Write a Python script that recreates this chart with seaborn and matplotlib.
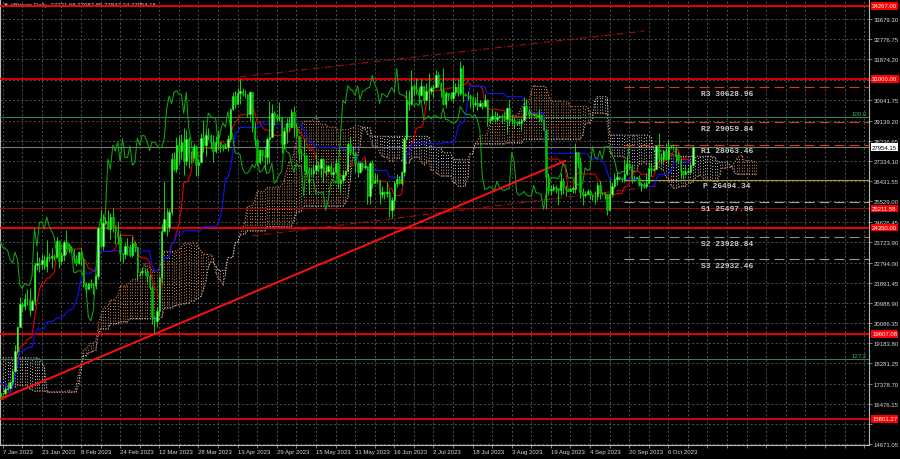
"""
Bitcoin daily chart in MetaTrader style: candles, Ichimoku cloud,
monthly pivot levels and hand drawn levels / trend lines
"""
import matplotlib
matplotlib.use('Agg')
import matplotlib.pyplot as plt
import seaborn as sns
import pandas as pd
import numpy as np

# ---- daily candles (open = previous close), 22 Oct 2022 .. 16 Oct 2023 ----
first_open = 19170.0

close_2022_10 = [19200, 19570, 19330, 20080, 20770, 20290, 20600, 20820, 20630, 20490]
high_2022_10 = [19250, 19690, 19600, 20380, 21000, 20850, 20720, 21000, 20930, 20800]
low_2022_10 = [19110, 19070, 19160, 19260, 20060, 20220, 20020, 20580, 20540, 20250]

close_2022_11 = [20480, 20160, 20210, 21150, 21300, 20900, 20590, 18540, 15880, 17590,
                 17070, 16810, 16330, 16620, 16900, 16660, 16690, 16700, 16700, 16280,
                 15780, 16190, 16610, 16600, 16520, 16460, 16440, 16220, 16440, 17170]
high_2022_11 = [20620, 20750, 20380, 21260, 21470, 21350, 21050, 20670, 18590, 18070,
                17620, 17070, 16850, 17130, 17080, 16960, 16730, 16900, 16800, 16740,
                16290, 16270, 16670, 16780, 16610, 16670, 16590, 16480, 16530, 17200]
low_2022_11 = [20350, 20060, 20060, 20180, 21080, 20890, 20400, 17170, 15680, 15820,
               16400, 16690, 16130, 15820, 16560, 16420, 16440, 16560, 16590, 16250,
               15600, 15650, 16170, 16470, 16350, 16410, 16400, 16010, 16130, 16440]

close_2022_12 = [16980, 17090, 16890, 17110, 16970, 17090, 16840, 17220, 17130, 17130,
                 17090, 17210, 17780, 17810, 17360, 16630, 16780, 16740, 16440, 16900,
                 16820, 16830, 16780, 16840, 16830, 16920, 16710, 16550, 16640, 16600, 16540]
high_2022_12 = [17300, 17100, 17150, 17200, 17400, 17100, 17080, 17300, 17350, 17220,
                17270, 17240, 18000, 18390, 17850, 17530, 16800, 16860, 16800, 17020,
                16900, 16860, 16920, 16870, 16860, 16940, 16960, 16780, 16650, 16640, 16630]
low_2022_12 = [16900, 16790, 16880, 16870, 16930, 16910, 16700, 16740, 17100, 17090,
               17070, 16870, 17090, 17660, 17280, 16570, 16590, 16730, 16400, 16400,
               16770, 16600, 16770, 16780, 16730, 16790, 16600, 16500, 16510, 16350, 16490]

close_2023_01 = [16620, 16670, 16670, 16850, 16830, 16950, 16940, 17120, 17180, 17440,
                 17940, 18850, 19930, 20950, 20870, 21170, 21160, 20690, 21080, 22680,
                 22780, 22710, 22920, 22620, 23050, 23010, 23080, 23030, 23770, 22840, 23140]
high_2023_01 = [16630, 16760, 16770, 16980, 16880, 16990, 16980, 17170, 17390, 17490,
                17990, 19100, 19960, 21260, 21030, 21450, 21620, 21650, 21180, 22750,
                23300, 23050, 23160, 23120, 23780, 23240, 23450, 23160, 23950, 23800, 23250]
low_2023_01 = [16500, 16570, 16600, 16670, 16750, 16710, 16910, 16900, 17100, 17140,
               17320, 17910, 18700, 19890, 20600, 20660, 20880, 20400, 20670, 20880,
               22460, 22350, 22500, 22500, 22350, 22870, 22540, 22890, 22980, 22560, 22740]

close_2023_02 = [23730, 23490, 23430, 23330, 22940, 22760, 23260, 22960, 21800, 21630,
                 21860, 21790, 21780, 22200, 24330, 23520, 24570, 24630, 24280, 24830,
                 24440, 24190, 23950, 23200, 23160, 23550, 23490, 23150]
high_2023_02 = [23800, 24230, 23600, 23550, 23420, 23140, 23320, 23450, 22990, 21930,
                21900, 22060, 21880, 22300, 24370, 25200, 24950, 24810, 25120, 25000,
                25250, 24470, 24600, 24120, 23220, 23680, 23880, 23600]
low_2023_02 = [22840, 23400, 23240, 23250, 22780, 22660, 22740, 22700, 21700, 21470,
               21600, 21650, 21380, 21600, 22050, 23500, 23360, 24460, 24280, 23850,
               24160, 23600, 23630, 22840, 22760, 22950, 23110, 23030]

close_2023_03 = [23650, 23470, 22360, 22350, 22430, 22410, 22200, 21700, 20360, 20190,
                 20630, 22160, 24200, 24750, 24380, 25050, 27420, 26970, 28040, 27770,
                 28170, 27310, 28330, 27490, 27490, 28000, 27140, 27270, 28350, 28030, 28480]
high_2023_03 = [24000, 23760, 23480, 22410, 22600, 22560, 22530, 22270, 21800, 20370,
                20790, 22180, 24520, 26400, 25220, 25200, 27700, 27720, 28400, 28500,
                28520, 28800, 28700, 28400, 27780, 28140, 28040, 27480, 28600, 29160, 28630]
low_2023_03 = [23020, 23250, 22000, 22190, 22220, 22280, 21930, 21590, 20060, 19630,
               19900, 20450, 21900, 24150, 23960, 24200, 24930, 26900, 26860, 27200,
               27400, 26700, 27170, 27030, 27250, 27460, 26660, 26680, 27260, 27720, 27560]

close_2023_04 = [28450, 28200, 27790, 28170, 28170, 28040, 27920, 27950, 28330, 29650,
                 30240, 29890, 30390, 30480, 30320, 30310, 29450, 30400, 28820, 28250,
                 27270, 27820, 27590, 27520, 28310, 28420, 29470, 29340, 29250, 29270]
high_2023_04 = [28800, 28520, 28490, 28430, 28720, 28180, 28100, 28140, 28490, 29700,
                30420, 30480, 30600, 31000, 30580, 30520, 30320, 30470, 30400, 29080,
                28370, 27880, 27820, 28000, 28390, 30000, 29870, 29560, 29440, 29970]
low_2023_04 = [28280, 27880, 27280, 27670, 27830, 27750, 27800, 27870, 27800, 28170,
               29620, 29700, 29880, 29900, 30250, 30170, 29280, 29120, 28630, 28010,
               27140, 27180, 27350, 26950, 27210, 27250, 28390, 28920, 29110, 29120]

close_2023_05 = [28090, 28680, 29030, 28850, 29540, 28900, 28450, 27690, 27660, 27620,
                 26990, 26800, 26780, 26930, 27170, 27030, 27400, 26830, 26890, 27120,
                 26760, 26850, 27230, 26330, 26480, 26720, 26870, 28080, 27750, 27700, 27220]
high_2023_05 = [29300, 28870, 29240, 29320, 29670, 29810, 29040, 28450, 27820, 28300,
                27620, 27050, 27030, 27180, 27630, 27270, 27470, 27460, 27170, 27150,
                27260, 27040, 27480, 27220, 26590, 26910, 26900, 28200, 28420, 28020, 27800]
low_2023_05 = [27690, 27880, 28150, 28690, 28850, 28420, 28400, 27340, 27390, 26880,
               26750, 25870, 26710, 26620, 26760, 26880, 26600, 26390, 26670, 26850,
               26710, 26570, 26840, 26110, 25880, 26340, 26620, 26850, 27600, 27580, 26860]

close_2023_06 = [26820, 27250, 27080, 27120, 25760, 27240, 26350, 26500, 26480, 25850,
                 25940, 25900, 25930, 25120, 25580, 26330, 26510, 26340, 26850, 28330,
                 30030, 29910, 30700, 30550, 30480, 30270, 30690, 30080, 30450, 30480]
high_2023_06 = [27310, 27300, 27300, 27430, 27130, 27340, 27390, 26800, 26770, 26530,
                26200, 26000, 26400, 26090, 25740, 26460, 26770, 26680, 26900, 28400,
                30500, 30500, 31400, 30790, 31050, 30660, 31000, 30700, 30840, 31280]
low_2023_06 = [26620, 26780, 26950, 26980, 25430, 25400, 26140, 26330, 26330, 25400,
               25690, 25650, 25740, 24830, 24800, 25200, 26170, 26300, 26260, 26660,
               28270, 29590, 29820, 30250, 30320, 29920, 30240, 29900, 30050, 29600]

close_2023_07 = [30590, 30620, 31160, 30770, 30510, 29900, 30350, 30290, 30170, 30410,
                 30620, 30390, 31480, 30330, 30300, 30250, 30140, 29860, 29920, 29800,
                 29910, 29800, 30080, 29180, 29230, 29350, 29210, 29320, 29360, 29280, 29230]
high_2023_07 = [30670, 30780, 31380, 31320, 30880, 31500, 30450, 30380, 30420, 31040,
                30800, 30980, 31810, 31630, 30390, 30440, 30330, 30240, 30190, 30410,
                30050, 29990, 30330, 30100, 29320, 29670, 29570, 29530, 29410, 29450, 29500]
low_2023_07 = [30330, 30190, 30580, 30640, 30200, 29850, 29700, 30050, 30070, 29950,
               30290, 30220, 30260, 29960, 30250, 30080, 29680, 29530, 29770, 29620,
               29740, 29640, 29740, 28880, 29050, 29100, 29090, 29130, 29260, 29040, 29130]

close_2023_08 = [29700, 29180, 29180, 29070, 29040, 29040, 29180, 29770, 29580, 29430,
                 29400, 29420, 29280, 29400, 29170, 28700, 26620, 26050, 26100, 26190,
                 26120, 26050, 26430, 26160, 26060, 26010, 26090, 26100, 27720, 27300, 25930]
high_2023_08 = [29730, 30040, 29410, 29310, 29110, 29160, 29240, 30180, 30100, 29690,
                29530, 29470, 29450, 29660, 29440, 29230, 28770, 26800, 26260, 26290,
                26250, 26130, 26780, 26550, 26280, 26100, 26160, 26200, 28140, 27740, 27500]
low_2023_08 = [28600, 28960, 28970, 28800, 28960, 28980, 28700, 29110, 29400, 29320,
               29350, 29380, 29250, 29100, 29080, 28700, 25170, 25800, 25810, 26000,
               25880, 25370, 25800, 25870, 25780, 25990, 26000, 25880, 25920, 27040, 25670]

close_2023_09 = [25800, 25870, 25970, 25810, 25780, 25750, 26240, 25900, 25900, 25840,
                 25160, 25840, 26230, 26530, 26600, 26570, 26530, 26760, 27210, 27130,
                 26570, 26580, 26580, 26260, 26300, 26220, 26350, 27030, 26910, 26970]
high_2023_09 = [26120, 25970, 26100, 26040, 25860, 26000, 26400, 26430, 25950, 25930,
                25850, 26520, 26390, 26780, 26850, 26640, 26620, 27400, 27490, 27390,
                27160, 26720, 26630, 26720, 26400, 26380, 26810, 27300, 27230, 27080]
low_2023_09 = [25360, 25720, 25820, 25650, 25580, 25400, 25600, 25650, 25820, 25620,
               24900, 25130, 25760, 26130, 26240, 26470, 26410, 26400, 26700, 26910,
               26370, 26530, 26510, 26200, 25990, 26110, 26130, 26340, 26670, 26890]

close_2023_10 = [27980, 27500, 27430, 27790, 27410, 27950, 27970, 27940, 27590, 27390,
                 26870, 26760, 26860, 26860, 27160, 27954.15]
high_2023_10 = [28050, 28580, 27670, 27820, 28120, 28280, 28030, 28100, 27990, 27730,
                27480, 26840, 27100, 26970, 27290, 27987.85]
low_2023_10 = [26960, 27330, 27180, 27220, 27360, 27180, 27870, 27840, 27300, 27300,
               26560, 26540, 26700, 26820, 26810, 27110]

# ---- levels ----
red_levels = [34267.00, 31000.00, 25211.58, 24350.00, 19607.08, 15801.27]
red_widths = [1.3, 1.2, 0.6, 1.3, 1.3, 1.2]
fibo_levels = [29280.0, 18470.0]
fibo_names = ['100.0', '127.2']
bid_price = 27954.15

pivot_names = ['R3', 'R2', 'R1', 'P', 'S1', 'S2', 'S3']
pivot_values = [30628.96, 29059.84, 28063.46, 26494.34, 25497.96, 23928.84, 22932.46]
pivot_start = '2023-09-18'

trend_dates = ['2023-01-06', '2023-08-25']
trend_prices = [16690, 27340]
chan_top_dates = ['2023-04-14', '2023-09-26']
chan_top_prices = [31090, 33140]
chan_low_dates = ['2023-04-19', '2023-10-01']
chan_low_prices = [23980, 26210]

# grid rows; the two hidden under price boxes get no label
price_ticks = [33679.30, 32776.75, 31874.20, 30971.65, 30041.75, 29139.20, 28236.65,
               27334.10, 26431.55, 25529.00, 24626.45, 23723.90, 22794.00, 21891.45,
               20988.90, 20086.35, 19183.80, 18281.25, 17378.70, 16476.15, 15573.60,
               14671.05]
hidden_ticks = [30971.65, 15573.60]

title_text = '#Bitcoin,Daily  27221.68 27987.85 27843.24 27954.15'

# ---- assemble ----
months = ['2022_10', '2022_11', '2022_12', '2023_01', '2023_02', '2023_03', '2023_04',
          '2023_05', '2023_06', '2023_07', '2023_08', '2023_09', '2023_10']
closes, highs, lows = [], [], []
for m in months:
    c, h, l = globals()['close_' + m], globals()['high_' + m], globals()['low_' + m]
    assert len(c) == len(h) == len(l), m
    closes += c
    highs += h
    lows += l

dates = pd.date_range('2022-10-22', periods=len(closes), freq='D')
assert dates[-1] == pd.Timestamp('2023-10-16'), dates[-1]
origin = pd.Timestamp('2023-01-07')


def day_of(d):
    return (pd.Timestamp(d) - origin).days


df = pd.DataFrame({'close': closes, 'high': highs, 'low': lows}, index=dates)
df['open'] = df['close'].shift(1).fillna(first_open)
df['day'] = (df.index - origin).days

# Ichimoku 9/26/52
tenkan = (df['high'].rolling(9).max() + df['low'].rolling(9).min()) / 2
kijun = (df['high'].rolling(26).max() + df['low'].rolling(26).min()) / 2
span_a = (tenkan + kijun) / 2
span_b = (df['high'].rolling(52).max() + df['low'].rolling(52).min()) / 2
cloud = pd.DataFrame({'day': df['day'] + 26, 'a': span_a.values, 'b': span_b.values}).dropna()

# ---- style ----
sns.set_theme(style='dark', rc={'axes.facecolor': 'black', 'figure.facecolor': 'black'})
plt.rcParams['font.family'] = ['Liberation Sans', 'DejaVu Sans']

X0, X1 = -1.1, 354.0
Y0, Y1 = 14637.0, 34573.0
fig = plt.figure(figsize=(9, 4.6), dpi=100)
ax = fig.add_axes([0, 1 - 446 / 460, 869 / 900, 446 / 460])
ax.set_xlim(X0, X1)
ax.set_ylim(Y0, Y1)

grid_col = '#5a5a5a'
ax.set_yticks(price_ticks)
ax.set_yticklabels(['' if v in hidden_ticks else f'{v:.2f}' for v in price_ticks])
ax.yaxis.tick_right()
grid_days = np.arange(0, X1, 8)
ax.set_xticks(grid_days)
last_day = df['day'].iloc[-1]
ax.set_xticklabels([
    f"{(origin + pd.Timedelta(days=int(d))).day} {(origin + pd.Timedelta(days=int(d))).strftime('%b %Y')}"
    if (d % 16 == 0 and d <= last_day) else '' for d in grid_days])
for lab in ax.get_xticklabels():
    lab.set_ha('left')
ax.grid(True, color=grid_col, linestyle=(0, (2.5, 2.5)), linewidth=0.6)
ax.tick_params(axis='both', labelsize=4.3, labelcolor='#d8d8d8', color='#b0b0b0',
               length=2, width=0.5, pad=1.2, direction='out')
ax.tick_params(axis='y', right=True, left=False)
ax.tick_params(axis='x', bottom=True)
for side in ['left', 'right', 'bottom']:
    ax.spines[side].set_color('#b8b8b8')
    ax.spines[side].set_linewidth(0.8)
ax.spines['top'].set_visible(False)

# ---- Ichimoku cloud (dotted hatch) ----
up = cloud[cloud['a'] >= cloud['b']]
dn = cloud[cloud['a'] < cloud['b']]
ax.vlines(up['day'], up['b'], up['a'], colors='#d98a4e', linestyles=(0, (1, 2)),
          linewidth=0.7, zorder=2)
ax.vlines(dn['day'], dn['a'], dn['b'], colors='#c8bcc8', linestyles=(0, (1, 2)),
          linewidth=0.7, zorder=2)
ax.plot(cloud['day'], cloud['a'], color='#d98a4e', linestyle=(0, (1, 1.5)), linewidth=0.8, zorder=2)
ax.plot(cloud['day'], cloud['b'], color='#c8bcc8', linestyle=(0, (1, 1.5)), linewidth=0.8, zorder=2)

# ---- hand drawn levels ----
for lvl, w in zip(red_levels, red_widths):
    ax.axhline(lvl, color='#ff0000' if w > 1 else '#d00000', linewidth=w, zorder=3)
for lvl in fibo_levels:
    ax.axhline(lvl, color='#2e8b57', linewidth=0.7, zorder=3)
ax.axhline(bid_price, color='#7a7a7a', linewidth=0.8, zorder=3)

pivot_styles = {
    'R3': ('#d2400f', (0, (9, 4.5))), 'R2': ('#d2400f', (0, (9, 4.5))),
    'R1': ('#d2400f', (0, (9, 4.5))), 'P': ('#b09a2a', '-'),
    'S1': ('#a0a0a0', (0, (9, 4.5))), 'S2': ('#a08878', (0, (9, 4.5))),
    'S3': ('#b09090', (0, (9, 4.5))),
}
p0 = day_of(pivot_start)
for name, val in zip(pivot_names, pivot_values):
    col, ls = pivot_styles[name]
    ax.hlines(val, p0, X1, colors=col, linestyles=ls, linewidth=0.8, zorder=3)
    ax.annotate(f'{name} {val:.2f}', xy=(last_day + 14, val), xytext=(0, -4.5),
                textcoords='offset points', ha='center', va='center',
                family='Liberation Mono', fontweight='bold', fontsize=5.8,
                color='#c8c8c8', zorder=6)

ax.plot([day_of(d) for d in trend_dates], trend_prices, color='#ff1010', linewidth=1.4, zorder=5)
ax.plot([day_of(d) for d in chan_top_dates], chan_top_prices, color='#a01010',
        linewidth=0.8, linestyle=(0, (6, 2, 1, 2)), zorder=3)
ax.plot([day_of(d) for d in chan_low_dates], chan_low_prices, color='#a01010',
        linewidth=0.8, linestyle=(0, (6, 2, 1, 2)), zorder=3)

# ---- Ichimoku lines ----
sns.lineplot(x=df['day'], y=tenkan, ax=ax, color='#e00000', linewidth=0.8,
             estimator=None, sort=False, legend=False, zorder=4)
sns.lineplot(x=df['day'], y=kijun, ax=ax, color='#1010ff', linewidth=0.8,
             estimator=None, sort=False, legend=False, zorder=4)
sns.lineplot(x=df['day'] - 26, y=df['close'], ax=ax, color='#10a810', linewidth=0.75,
             estimator=None, sort=False, legend=False, zorder=4)

# ---- candles ----
bull = df['close'] >= df['open']
ax.vlines(df['day'], df['low'], df['high'], colors='#00ff00', linewidth=0.6, zorder=5)
body = (df['close'] - df['open']).where(lambda s: s.abs() > 15, 15)
ax.bar(df['day'][bull], body[bull], bottom=df['open'][bull], width=0.6,
       color='#9cff9c', edgecolor='#00ff00', linewidth=0.4, zorder=5)
ax.bar(df['day'][~bull], body[~bull], bottom=df['open'][~bull], width=0.6,
       color='#00c000', edgecolor='#00c000', linewidth=0.4, zorder=5)

ax.set_xlabel('')
ax.set_ylabel('')

# ---- right axis price boxes ----
ytr = ax.get_yaxis_transform()
box_kw = dict(textcoords='offset points', ha='left', va='center', fontsize=4.3,
              annotation_clip=False, zorder=10)
for lvl in red_levels:
    ax.annotate(f'{lvl:.2f}', xy=(1, lvl), xycoords=ytr, xytext=(2.2, 0), color='white',
                bbox=dict(boxstyle='square,pad=0.2', fc='#ff0000', ec='none'), **box_kw)
ax.annotate(f'{bid_price:.2f}', xy=(1, bid_price), xycoords=ytr, xytext=(2.2, 0),
            color='black', bbox=dict(boxstyle='square,pad=0.2', fc='white', ec='none'),
            **box_kw)
for lvl, name in zip(fibo_levels, fibo_names):
    ax.annotate(name, xy=(1, lvl), xycoords=ytr, xytext=(-2, 1.2),
                textcoords='offset points', ha='right', va='bottom', fontsize=4.3,
                color='#3cb371', zorder=10)

ax.text(0.004, 0.987, '\u25bc ' + title_text, transform=ax.transAxes, fontsize=4.3,
        color='#c8c8c8', va='center', ha='left', zorder=1)

fig.savefig('out.png', dpi=100, facecolor='black')
